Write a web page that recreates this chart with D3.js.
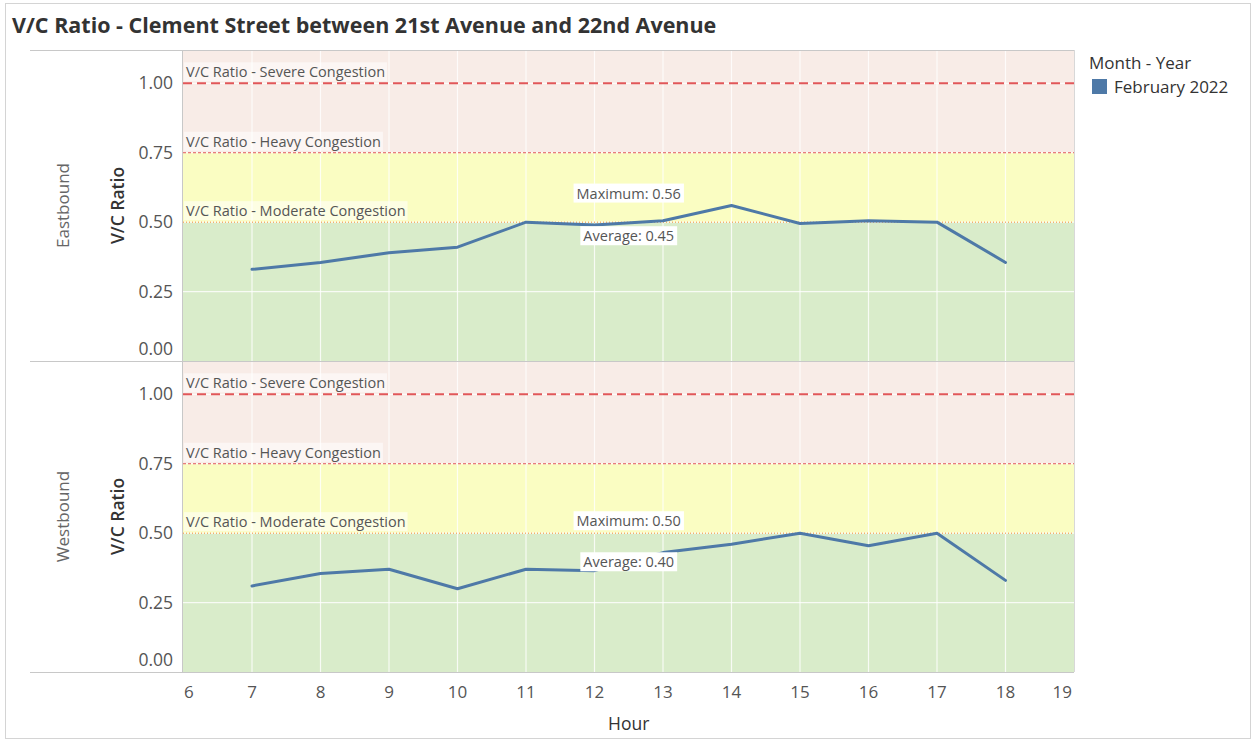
<!DOCTYPE html>
<html>
<head>
<meta charset="utf-8">
<script src="https://cdn.jsdelivr.net/npm/d3@7"></script>
<style>
  body { margin: 0; background: #fff; }
  text { font-family: "Open Sans", "Noto Sans", sans-serif; }
</style>
</head>
<body>
<script>

    // data
    var hours = [7, 8, 9, 10, 11, 12, 13, 14, 15, 16, 17, 18];
    var eastbound = [0.33, 0.355, 0.39, 0.41, 0.50, 0.49, 0.505, 0.56, 0.495, 0.505, 0.50, 0.355];
    var westbound = [0.31, 0.355, 0.37, 0.30, 0.37, 0.365, 0.43, 0.46, 0.50, 0.455, 0.50, 0.33];
    var directions = ['Eastbound', 'Westbound'];
    var xTicks = [6, 7, 8, 9, 10, 11, 12, 13, 14, 15, 16, 17, 18, 19];
    var yTicks = [0, 0.25, 0.5, 0.75, 1.0];
    var refLines = [
        { value: 1.00, name: 'V/C Ratio - Severe Congestion' },
        { value: 0.75, name: 'V/C Ratio - Heavy Congestion' },
        { value: 0.50, name: 'V/C Ratio - Moderate Congestion' }
    ];
    var legendLabel = 'February 2022';

    var W = 1255, H = 740;
    var left = 183, right = 1074;
    var panels = [{ top: 50, bottom: 361 }, { top: 361, bottom: 672 }];
    var lineColor = '#4e79a7';

    var svg = d3.select('body').append('svg')
        .attr('width', W)
        .attr('height', H);

    // outer frame
    svg.append('rect')
        .attr('x', 5.5).attr('y', 3.5)
        .attr('width', 1245).attr('height', 735)
        .attr('fill', 'none').attr('stroke', '#d4d4d4');

    svg.append('text')
        .attr('x', 12).attr('y', 33)
        .attr('font-size', 21.5).attr('font-weight', 'bold')
        .attr('fill', '#333')
        .text('V/C Ratio - Clement Street between 21st Avenue and 22nd Avenue');

    var x = d3.scaleLinear().domain([6, 19]).range([left + 0.5, right]);

    var series = [eastbound, westbound];

    panels.forEach((p, pi) => {
        var y = d3.scaleLinear().domain([0, 1.12]).range([p.bottom, p.top]);
        var g = svg.append('g');

        // congestion bands
        g.append('rect').attr('x', left).attr('width', right - left)
            .attr('y', p.top).attr('height', y(0.75) - p.top).attr('fill', '#f8ece7');
        g.append('rect').attr('x', left).attr('width', right - left)
            .attr('y', y(0.75)).attr('height', y(0.5) - y(0.75)).attr('fill', '#fafdc2');
        g.append('rect').attr('x', left).attr('width', right - left)
            .attr('y', y(0.5)).attr('height', p.bottom - y(0.5)).attr('fill', '#d9ecca');

        // white grid lines
        g.selectAll('.vg').data(xTicks.slice(1, -1)).enter().append('line')
            .attr('x1', d => x(d)).attr('x2', d => x(d))
            .attr('y1', p.top).attr('y2', p.bottom)
            .attr('stroke', '#fff').attr('stroke-opacity', 0.8).attr('stroke-width', 1.2);
        g.selectAll('.hg').data(yTicks.slice(1)).enter().append('line')
            .attr('x1', left).attr('x2', right)
            .attr('y1', d => y(d)).attr('y2', d => y(d))
            .attr('stroke', '#fff').attr('stroke-opacity', 0.8).attr('stroke-width', 1.2);

        // reference lines
        g.append('line').attr('x1', left).attr('x2', right)
            .attr('y1', y(1)).attr('y2', y(1))
            .attr('stroke', '#e15759').attr('stroke-width', 2).attr('stroke-dasharray', '9,5');
        g.append('line').attr('x1', left).attr('x2', right)
            .attr('y1', y(0.75)).attr('y2', y(0.75))
            .attr('stroke', '#e15759').attr('stroke-width', 1).attr('stroke-dasharray', '3,2');
        g.append('line').attr('x1', left).attr('x2', right)
            .attr('y1', y(0.5)).attr('y2', y(0.5))
            .attr('stroke', '#f28e2b').attr('stroke-width', 1).attr('stroke-dasharray', '1,2');

        refLines.forEach((r) => {
            var t = g.append('text')
                .attr('x', left + 3).attr('y', y(r.value) - 6)
                .attr('font-size', 14.5).attr('fill', '#555')
                .text(r.name);
            var bb = t.node().getBBox();
            g.insert('rect', 'text')
                .attr('x', bb.x - 2).attr('y', bb.y)
                .attr('width', bb.width + 4).attr('height', bb.height)
                .attr('fill', '#fff').attr('fill-opacity', 0.55);
        });

        // data line
        var vals = series[pi];
        var line = d3.line()
            .x((d, i) => x(hours[i]))
            .y((d) => y(d));
        g.append('path')
            .datum(vals)
            .attr('d', line)
            .attr('fill', 'none')
            .attr('stroke', lineColor)
            .attr('stroke-width', 3)
            .attr('stroke-linejoin', 'round')
            .attr('stroke-linecap', 'round');

        // max / average labels
        var mx = d3.max(vals), avg = d3.mean(vals);
        var boxes = [
            { label: 'Maximum: ' + d3.format('.2f')(mx), cy: y(mx) - 12 },
            { label: 'Average: ' + d3.format('.2f')(avg), cy: y(avg) }
        ];
        boxes.forEach((b) => {
            var t = g.append('text')
                .attr('x', x(12.5)).attr('y', b.cy)
                .attr('dy', '0.35em')
                .attr('text-anchor', 'middle')
                .attr('font-size', 14.5).attr('fill', '#555')
                .text(b.label);
            var bb = t.node().getBBox();
            g.insert('rect', 'text:last-child')
                .attr('x', bb.x - 3).attr('y', bb.y)
                .attr('width', bb.width + 6).attr('height', bb.height)
                .attr('fill', '#fff');
            t.raise();
        });

        // y axis tick labels
        g.selectAll('.yt').data(yTicks).enter().append('text')
            .attr('x', 173)
            .attr('y', d => Math.min(y(d), p.bottom - 12))
            .attr('dy', '0.35em')
            .attr('text-anchor', 'end')
            .attr('font-size', 17.5).attr('fill', '#555')
            .text(d => d3.format('.2f')(d));

        // row labels
        var cy = (p.top + p.bottom) / 2;
        g.append('text')
            .attr('transform', 'translate(69,' + cy + ') rotate(-90)')
            .attr('text-anchor', 'middle')
            .attr('font-size', 17).attr('fill', '#666')
            .text(directions[pi]);
        g.append('text')
            .attr('transform', 'translate(124,' + cy + ') rotate(-90)')
            .attr('text-anchor', 'middle')
            .attr('font-size', 17.5).attr('font-weight', 600).attr('fill', '#333')
            .text('V/C Ratio');
    });

    // frame lines
    [50, 361, 672].forEach((yy) => {
        svg.append('line').attr('x1', 30).attr('x2', right)
            .attr('y1', yy + 0.5).attr('y2', yy + 0.5)
            .attr('stroke', '#c8c8c8').attr('stroke-width', 1);
    });
    svg.append('line').attr('x1', left - 0.5).attr('x2', left - 0.5)
        .attr('y1', 50).attr('y2', 672).attr('stroke', '#c8c8c8');
    svg.append('line').attr('x1', right + 0.5).attr('x2', right + 0.5)
        .attr('y1', 50).attr('y2', 672).attr('stroke', '#d8d8d8');

    // x axis
    svg.selectAll('.xt').data(xTicks).enter().append('text')
        .attr('x', d => d === 6 ? left + 1 : d === 19 ? right - 2 : x(d))
        .attr('y', 692)
        .attr('dy', '0.35em')
        .attr('text-anchor', d => d === 6 ? 'start' : d === 19 ? 'end' : 'middle')
        .attr('font-size', 17).attr('fill', '#555')
        .text(d => d);
    svg.append('text')
        .attr('x', x(12.5)).attr('y', 724)
        .attr('dy', '0.35em')
        .attr('text-anchor', 'middle')
        .attr('font-size', 17.5).attr('fill', '#333')
        .text('Hour');

    // legend
    svg.append('text')
        .attr('x', 1089).attr('y', 69)
        .attr('font-size', 17).attr('fill', '#333')
        .text('Month - Year');
    svg.append('rect')
        .attr('x', 1092).attr('y', 79)
        .attr('width', 15).attr('height', 15)
        .attr('fill', lineColor);
    svg.append('text')
        .attr('x', 1114).attr('y', 93)
        .attr('font-size', 17).attr('fill', '#333')
        .text(legendLabel);

</script>
</body>
</html>
